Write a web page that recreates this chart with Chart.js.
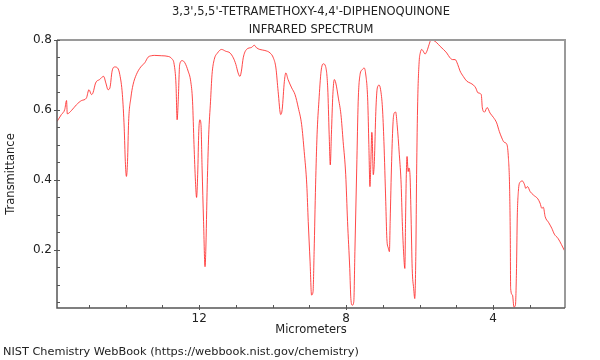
<!DOCTYPE html>
<html>
<head>
<meta charset="utf-8">
<script src="https://cdn.jsdelivr.net/npm/chart.js@4/dist/chart.umd.min.js"></script>
<style>
  html, body { margin: 0; padding: 0; background: #fff; }
  #wrap { width: 600px; height: 360px; }
</style>
</head>
<body>
<div id="wrap"><canvas id="myChart" width="600" height="360"></canvas></div>
<script>
var titleLines = ["3,3',5,5'-TETRAMETHOXY-4,4'-DIPHENOQUINONE", "INFRARED SPECTRUM"];
var xTicks = [12, 8, 4];
var yTicks = [0.2, 0.4, 0.6, 0.8];

// wavelength in micrometers
var micrometers = [
  15.87, 15.75, 15.66, 15.61, 15.59, 15.48, 15.34, 15.20, 15.07, 15.00, 14.93, 14.89, 14.82, 14.71, 14.60,
  14.54, 14.48, 14.43, 14.37, 14.30, 14.22, 14.16, 14.09, 14.04, 14.01, 13.98, 13.95, 13.92, 13.86, 13.80,
  13.71, 13.59, 13.48, 13.39, 13.30, 13.21, 13.02, 12.84, 12.75, 12.68, 12.63, 12.60, 12.57, 12.53, 12.46,
  12.39, 12.30, 12.23, 12.18, 12.14, 12.10, 12.07, 12.04, 12.01, 11.98, 11.95, 11.92, 11.88, 11.84, 11.82,
  11.78, 11.74, 11.69, 11.65, 11.59, 11.50, 11.39, 11.28, 11.16, 11.07, 11.00, 10.94, 10.89, 10.85, 10.80,
  10.71, 10.57, 10.50, 10.44, 10.35, 10.21, 10.07, 9.98, 9.91, 9.85, 9.78, 9.74, 9.68, 9.64, 9.58,
  9.48, 9.39, 9.30, 9.21, 9.14, 9.07, 9.03, 8.98, 8.94, 8.90, 8.87, 8.83, 8.79, 8.74, 8.68,
  8.62, 8.56, 8.50, 8.46, 8.43, 8.40, 8.36, 8.32, 8.28, 8.21, 8.14, 8.08, 8.01, 7.96, 7.90,
  7.87, 7.83, 7.79, 7.76, 7.71, 7.67, 7.62, 7.56, 7.51, 7.47, 7.41, 7.38, 7.35, 7.32, 7.30,
  7.29, 7.26, 7.23, 7.19, 7.15, 7.10, 7.06, 7.01, 6.97, 6.92, 6.89, 6.85, 6.82, 6.80, 6.76,
  6.72, 6.69, 6.65, 6.61, 6.55, 6.50, 6.47, 6.43, 6.40, 6.38, 6.36, 6.34, 6.31, 6.29, 6.26,
  6.23, 6.20, 6.16, 6.13, 6.10, 6.08, 6.05, 6.01, 5.98, 5.94, 5.90, 5.85, 5.80, 5.74, 5.69,
  5.62, 5.53, 5.44, 5.35, 5.26, 5.17, 5.10, 5.03, 4.96, 4.90, 4.81, 4.71, 4.62, 4.53, 4.47,
  4.41, 4.32, 4.29, 4.23, 4.16, 4.08, 3.99, 3.90, 3.83, 3.76, 3.70, 3.62, 3.58, 3.55, 3.53,
  3.52, 3.47, 3.43, 3.39, 3.36, 3.34, 3.31, 3.26, 3.20, 3.14, 3.11, 3.06, 2.99, 2.90, 2.78,
  2.72, 2.67, 2.63, 2.58, 2.49, 2.40, 2.33, 2.23, 2.14, 2.04
];

var transmittance = [
  0.567, 0.587, 0.601, 0.627, 0.589, 0.598, 0.615, 0.627, 0.634, 0.658, 0.644, 0.649, 0.677, 0.687, 0.696,
  0.677, 0.658, 0.663, 0.711, 0.723, 0.720, 0.701, 0.644, 0.548, 0.453, 0.410, 0.453, 0.567, 0.634, 0.672,
  0.701, 0.723, 0.735, 0.751, 0.755, 0.756, 0.755, 0.753, 0.747, 0.730, 0.672, 0.572, 0.625, 0.730, 0.741,
  0.735, 0.711, 0.682, 0.625, 0.501, 0.395, 0.350, 0.415, 0.539, 0.572, 0.558, 0.434, 0.281, 0.152, 0.195,
  0.386, 0.529, 0.625, 0.701, 0.744, 0.763, 0.773, 0.768, 0.763, 0.749, 0.730, 0.706, 0.696, 0.711, 0.749,
  0.773, 0.779, 0.785, 0.778, 0.773, 0.770, 0.763, 0.749, 0.720, 0.653, 0.587, 0.601, 0.682, 0.706, 0.687,
  0.663, 0.644, 0.606, 0.558, 0.481, 0.386, 0.281, 0.166, 0.071, 0.080, 0.195, 0.386, 0.529, 0.625, 0.711,
  0.732, 0.725, 0.663, 0.529, 0.443, 0.529, 0.644, 0.687, 0.677, 0.634, 0.587, 0.510, 0.415, 0.281, 0.147,
  0.061, 0.042, 0.052, 0.195, 0.434, 0.625, 0.701, 0.715, 0.720, 0.706, 0.625, 0.501, 0.381, 0.472, 0.536,
  0.530, 0.415, 0.453, 0.596, 0.663, 0.671, 0.658, 0.606, 0.510, 0.338, 0.233, 0.205, 0.195, 0.281, 0.453,
  0.567, 0.591, 0.594, 0.558, 0.472, 0.386, 0.281, 0.185, 0.147, 0.291, 0.415, 0.467, 0.424, 0.434, 0.415,
  0.291, 0.147, 0.090, 0.061, 0.195, 0.415, 0.625, 0.739, 0.763, 0.773, 0.768, 0.760, 0.768, 0.787, 0.800,
  0.799, 0.792, 0.782, 0.773, 0.763, 0.749, 0.744, 0.744, 0.730, 0.712, 0.696, 0.682, 0.677, 0.671, 0.663,
  0.649, 0.644, 0.606, 0.594, 0.607, 0.591, 0.579, 0.563, 0.539, 0.520, 0.508, 0.501, 0.462, 0.386, 0.243,
  0.090, 0.071, 0.037, 0.042, 0.147, 0.291, 0.367, 0.394, 0.397, 0.386, 0.376, 0.381, 0.367, 0.357, 0.346,
  0.334, 0.319, 0.322, 0.295, 0.279, 0.262, 0.245, 0.233, 0.216, 0.195
];

var points = micrometers.map(function(m, i) { return { x: m, y: transmittance[i] }; });

var FONT = "'DejaVu Sans', sans-serif";

// frame, inward ticks and the extra texts
var decorPlugin = {
  id: 'decor',
  afterDraw: function(chart) {
    var ctx = chart.ctx;
    var a = chart.chartArea;
    var xs = chart.scales.x, ys = chart.scales.y;
    ctx.save();

    // top and right frame, light gray
    ctx.strokeStyle = '#9a9a9a';
    ctx.lineWidth = 2;
    ctx.beginPath();
    ctx.moveTo(a.left, a.top);
    ctx.lineTo(a.right, a.top);
    ctx.lineTo(a.right, a.bottom);
    ctx.stroke();

    // left and bottom axis, darker
    ctx.strokeStyle = '#555';
    ctx.lineWidth = 1.5;
    ctx.beginPath();
    ctx.moveTo(a.left, a.top);
    ctx.lineTo(a.left, a.bottom);
    ctx.lineTo(a.right, a.bottom);
    ctx.stroke();

    ctx.lineWidth = 1;
    // y minor ticks every 0.05
    for (var v = 0.05; v <= 0.801; v += 0.05) {
      var py = Math.round(ys.getPixelForValue(v)) + 0.5;
      var major = Math.abs(v * 5 - Math.round(v * 5)) < 1e-6;
      ctx.beginPath();
      ctx.moveTo(a.left - (major ? 3 : 0), py);
      ctx.lineTo(a.left + 3, py);
      ctx.stroke();
    }
    // x minor ticks every micrometer
    for (var m = 3; m <= 15; m++) {
      var px = Math.round(xs.getPixelForValue(m)) + 0.5;
      var big = m % 4 === 0;
      ctx.beginPath();
      ctx.moveTo(px, a.bottom + (big ? 2 : 0));
      ctx.lineTo(px, a.bottom - 3);
      ctx.stroke();
    }

    ctx.fillStyle = '#222';
    ctx.font = '11.5px ' + FONT;
    ctx.textAlign = 'center';
    ctx.textBaseline = 'middle';
    var cx = (a.left + a.right) / 2;
    ctx.fillText(titleLines[0], cx, 12);
    ctx.fillText(titleLines[1], cx, 30);
    ctx.fillText('Micrometers', cx, 330);

    ctx.save();
    ctx.translate(11, (a.top + a.bottom) / 2);
    ctx.rotate(-Math.PI / 2);
    ctx.fillText('Transmittance', 0, 0);
    ctx.restore();

    ctx.textAlign = 'left';
    ctx.font = '11.3px ' + FONT;
    ctx.fillText('NIST Chemistry WebBook (https://webbook.nist.gov/chemistry)', 3, 352);
    ctx.restore();
  }
};

var ctx = document.getElementById('myChart').getContext('2d');
var myChart = new Chart(ctx, {
  type: 'line',
  data: {
    datasets: [{
      data: points,
      borderColor: 'rgba(255, 40, 40, 0.85)',
      borderWidth: 1,
      pointRadius: 0,
      fill: false,
      cubicInterpolationMode: 'monotone'
    }]
  },
  options: {
    responsive: false,
    animation: false,
    layout: { padding: { left: 0, right: 35, top: 40, bottom: 0 } },
    plugins: { legend: { display: false }, title: { display: false }, tooltip: { enabled: false } },
    scales: {
      x: {
        type: 'linear',
        reverse: true,
        min: 2.04,
        max: 15.87,
        grid: { display: false, drawTicks: false },
        border: { display: false },
        afterBuildTicks: function(scale) {
          scale.ticks = xTicks.map(function(v) { return { value: v }; });
        },
        afterFit: function(scale) { scale.height = 52; },
        ticks: {
          padding: 4,
          color: '#222',
          font: { family: FONT, size: 12 },
          maxRotation: 0,
          autoSkip: false
        }
      },
      y: {
        min: 0.034,
        max: 0.8,
        grid: { display: false, drawTicks: false },
        border: { display: false },
        afterBuildTicks: function(scale) {
          scale.ticks = yTicks.map(function(v) { return { value: v }; });
        },
        afterFit: function(scale) { scale.width = 57; },
        ticks: {
          padding: 5,
          color: '#222',
          font: { family: FONT, size: 12 },
          callback: function(v) { return v.toFixed(1); }
        }
      }
    }
  },
  plugins: [decorPlugin]
});
</script>
</body>
</html>
